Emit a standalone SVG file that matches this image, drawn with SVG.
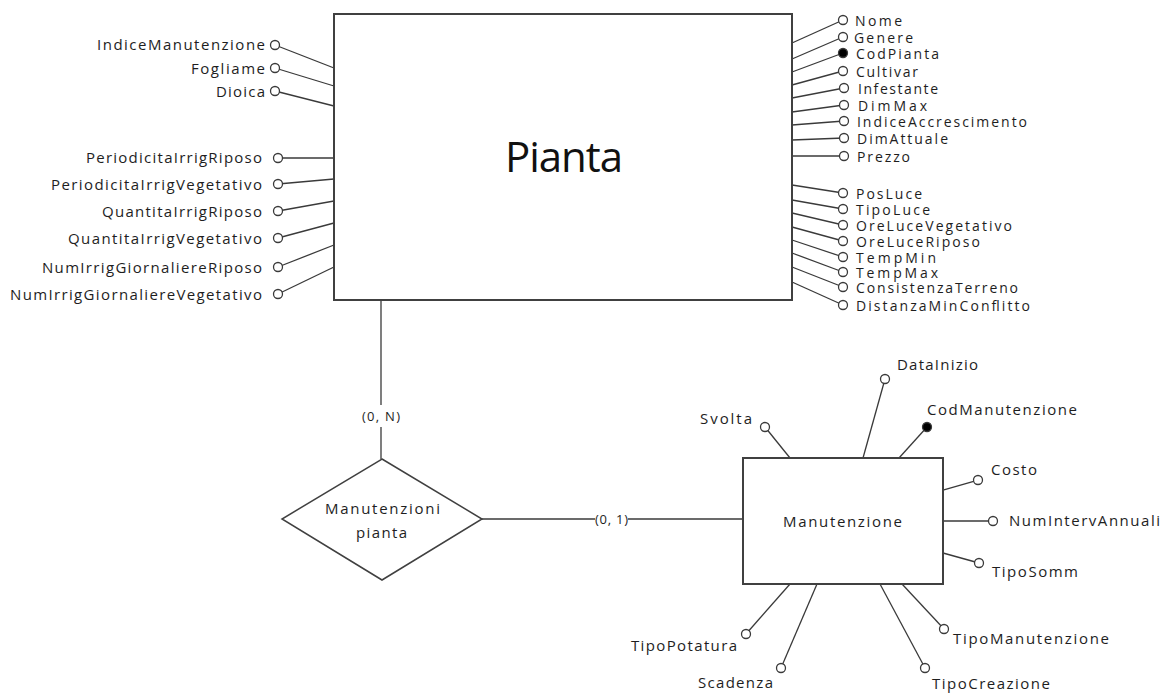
<svg xmlns="http://www.w3.org/2000/svg" width="1168" height="693" viewBox="0 0 1168 693">
  <style>
    .ent { fill: #ffffff; stroke: #404040; stroke-width: 2; }
    .rel { fill: #ffffff; stroke: #404040; stroke-width: 1.5; }
    .ln { fill: none; stroke: #3a3a3a; stroke-width: 1.3; }
    .at { fill: #ffffff; stroke: #3a3a3a; stroke-width: 1.3; }
    .key { fill: #000000; stroke: #3a3a3a; stroke-width: 1.3; }
    text { font-family: "Open Sans", "Liberation Sans", Arial, sans-serif; font-size: 15px; fill: #1e1e1e; }
    .tight text { font-size: 14px; }
    .title { font-size: 42px; fill: #111111; }
    .card { font-size: 13px; }
  </style>
  <rect width="1168" height="693" fill="#ffffff"/>

  <!-- connectors: attribute stems, relationship links -->
  <g id="connectors">
    <!-- Pianta, left side -->
    <line class="ln" x1="334" y1="68" x2="275" y2="45"/>
    <line class="ln" x1="334" y1="86" x2="275" y2="68"/>
    <line class="ln" x1="334" y1="106" x2="275" y2="91"/>
    <line class="ln" x1="334" y1="158" x2="278" y2="158"/>
    <line class="ln" x1="334" y1="179" x2="278" y2="184"/>
    <line class="ln" x1="334" y1="201" x2="278" y2="211"/>
    <line class="ln" x1="334" y1="223" x2="278" y2="238"/>
    <line class="ln" x1="334" y1="245" x2="278" y2="267"/>
    <line class="ln" x1="334" y1="267" x2="278" y2="294"/>
    <!-- Pianta, right side -->
    <line class="ln" x1="792" y1="43" x2="843" y2="20"/>
    <line class="ln" x1="792" y1="59" x2="843" y2="37"/>
    <line class="ln" x1="792" y1="72" x2="843" y2="53"/>
    <line class="ln" x1="792" y1="85" x2="843" y2="71"/>
    <line class="ln" x1="792" y1="98" x2="844" y2="88"/>
    <line class="ln" x1="792" y1="112" x2="844" y2="105"/>
    <line class="ln" x1="792" y1="125" x2="844" y2="121"/>
    <line class="ln" x1="792" y1="140" x2="844" y2="138"/>
    <line class="ln" x1="792" y1="156" x2="844" y2="156"/>
    <line class="ln" x1="792" y1="185" x2="843" y2="193"/>
    <line class="ln" x1="792" y1="200" x2="843" y2="209"/>
    <line class="ln" x1="792" y1="213" x2="843" y2="225"/>
    <line class="ln" x1="792" y1="227" x2="843" y2="241"/>
    <line class="ln" x1="792" y1="240" x2="843" y2="257"/>
    <line class="ln" x1="792" y1="253" x2="843" y2="272"/>
    <line class="ln" x1="792" y1="267" x2="843" y2="287"/>
    <line class="ln" x1="792" y1="282" x2="843" y2="305"/>
    <!-- Manutenzione stems -->
    <line class="ln" x1="790" y1="458" x2="765" y2="427"/>
    <line class="ln" x1="863" y1="458" x2="885" y2="379"/>
    <line class="ln" x1="899" y1="458" x2="927" y2="427"/>
    <line class="ln" x1="943" y1="490" x2="978" y2="480"/>
    <line class="ln" x1="943" y1="521" x2="993" y2="521"/>
    <line class="ln" x1="943" y1="553" x2="979" y2="563"/>
    <line class="ln" x1="902" y1="584" x2="944" y2="629"/>
    <line class="ln" x1="880" y1="584" x2="925" y2="668"/>
    <line class="ln" x1="817" y1="584" x2="781" y2="668"/>
    <line class="ln" x1="790" y1="584" x2="746" y2="634"/>
    <!-- relationship links with cardinalities -->
    <line class="ln" x1="381" y1="300" x2="381" y2="405"/>
    <line class="ln" x1="381" y1="427" x2="381" y2="459"/>
    <text class="card" x="362" y="421" textLength="38">(0, N)</text>
    <line class="ln" x1="482" y1="519" x2="595" y2="519"/>
    <line class="ln" x1="628" y1="519" x2="743" y2="519"/>
    <text class="card" x="595" y="524" textLength="33">(0, 1)</text>
  </g>

  <!-- entity Pianta -->
  <g id="pianta">
    <rect class="ent" x="334" y="14" width="458" height="286"/>
    <text class="title" x="505" y="172" textLength="118">Pianta</text>
  </g>

  <!-- Pianta attributes, left -->
  <g id="attr-indicemanutenzione"><circle class="at" cx="275" cy="45" r="4.5"/><text x="97" y="50" textLength="168">IndiceManutenzione</text></g>
  <g id="attr-fogliame"><circle class="at" cx="275" cy="68" r="4.5"/><text x="191" y="74" textLength="74">Fogliame</text></g>
  <g id="attr-dioica"><circle class="at" cx="275" cy="91" r="4.5"/><text x="216" y="97" textLength="49">Dioica</text></g>
  <g id="attr-periodicitairrigriposo"><circle class="at" cx="278" cy="158" r="4.5"/><text x="86" y="163" textLength="176">PeriodicitaIrrigRiposo</text></g>
  <g id="attr-periodicitairrigvegetativo"><circle class="at" cx="278" cy="184" r="4.5"/><text x="51" y="190" textLength="211">PeriodicitaIrrigVegetativo</text></g>
  <g id="attr-quantitairrigriposo"><circle class="at" cx="278" cy="211" r="4.5"/><text x="102" y="217" textLength="160">QuantitaIrrigRiposo</text></g>
  <g id="attr-quantitairrigvegetativo"><circle class="at" cx="278" cy="238" r="4.5"/><text x="68" y="244" textLength="194">QuantitaIrrigVegetativo</text></g>
  <g id="attr-numirriggiornaliereriposo"><circle class="at" cx="278" cy="267" r="4.5"/><text x="42" y="273" textLength="220">NumIrrigGiornaliereRiposo</text></g>
  <g id="attr-numirriggiornalierevegetativo"><circle class="at" cx="278" cy="294" r="4.5"/><text x="10" y="300" textLength="252">NumIrrigGiornaliereVegetativo</text></g>

  <!-- Pianta attributes, right (densely stacked) -->
  <g class="tight">
    <g id="attr-nome"><circle class="at" cx="843" cy="20" r="4.5"/><text x="855" y="25.5" textLength="47">Nome</text></g>
    <g id="attr-genere"><circle class="at" cx="843" cy="37" r="4.5"/><text x="854" y="42.5" textLength="59">Genere</text></g>
    <g id="attr-codpianta"><circle class="key" cx="843" cy="53" r="4.5"/><text x="856" y="58.5" textLength="83">CodPianta</text></g>
    <g id="attr-cultivar"><circle class="at" cx="843" cy="71" r="4.5"/><text x="856" y="76.5" textLength="62">Cultivar</text></g>
    <g id="attr-infestante"><circle class="at" cx="844" cy="88" r="4.5"/><text x="858" y="93.5" textLength="80">Infestante</text></g>
    <g id="attr-dimmax"><circle class="at" cx="844" cy="105" r="4.5"/><text x="858" y="110.5" textLength="69">DimMax</text></g>
    <g id="attr-indiceaccrescimento"><circle class="at" cx="844" cy="121" r="4.5"/><text x="857" y="126.5" textLength="170">IndiceAccrescimento</text></g>
    <g id="attr-dimattuale"><circle class="at" cx="844" cy="138" r="4.5"/><text x="857" y="143.5" textLength="91">DimAttuale</text></g>
    <g id="attr-prezzo"><circle class="at" cx="844" cy="156" r="4.5"/><text x="857" y="161.5" textLength="53">Prezzo</text></g>
    <g id="attr-posluce"><circle class="at" cx="843" cy="193" r="4.5"/><text x="856" y="198.5" textLength="66">PosLuce</text></g>
    <g id="attr-tipoluce"><circle class="at" cx="843" cy="209" r="4.5"/><text x="856" y="214.5" textLength="74">TipoLuce</text></g>
    <g id="attr-orelucevegetativo"><circle class="at" cx="843" cy="225" r="4.5"/><text x="856" y="230.5" textLength="156">OreLuceVegetativo</text></g>
    <g id="attr-oreluceriposo"><circle class="at" cx="843" cy="241" r="4.5"/><text x="856" y="246.5" textLength="124">OreLuceRiposo</text></g>
    <g id="attr-tempmin"><circle class="at" cx="843" cy="257" r="4.5"/><text x="856" y="262.5" textLength="80">TempMin</text></g>
    <g id="attr-tempmax"><circle class="at" cx="843" cy="272" r="4.5"/><text x="856" y="277.5" textLength="82">TempMax</text></g>
    <g id="attr-consistenzaterreno"><circle class="at" cx="843" cy="287" r="4.5"/><text x="856" y="292.5" textLength="162">ConsistenzaTerreno</text></g>
    <g id="attr-distanzaminconflitto"><circle class="at" cx="843" cy="305" r="4.5"/><text x="856" y="310.5" textLength="174">DistanzaMinConflitto</text></g>
  </g>

  <!-- relationship Manutenzioni pianta -->
  <g id="manutenzioni-pianta">
    <polygon class="rel" points="382,459 482,519 382,580 282,519"/>
    <text x="325" y="514" textLength="115">Manutenzioni</text>
    <text x="356" y="538" textLength="51">pianta</text>
  </g>

  <!-- entity Manutenzione -->
  <g id="manutenzione">
    <rect class="ent" x="743" y="458" width="200" height="126"/>
    <text x="783" y="527" textLength="119">Manutenzione</text>
  </g>

  <!-- Manutenzione attributes -->
  <g id="attr-svolta"><circle class="at" cx="765" cy="427" r="4.5"/><text x="700" y="424" textLength="52">Svolta</text></g>
  <g id="attr-datainizio"><circle class="at" cx="885" cy="379" r="4.5"/><text x="897" y="370" textLength="81">DataInizio</text></g>
  <g id="attr-codmanutenzione"><circle class="key" cx="927" cy="427" r="4.5"/><text x="927" y="415" textLength="150">CodManutenzione</text></g>
  <g id="attr-costo"><circle class="at" cx="978" cy="480" r="4.5"/><text x="991" y="475" textLength="46">Costo</text></g>
  <g id="attr-numintervannuali"><circle class="at" cx="993" cy="521" r="4.5"/><text x="1009" y="526" textLength="151">NumIntervAnnuali</text></g>
  <g id="attr-tiposomm"><circle class="at" cx="979" cy="563" r="4.5"/><text x="992" y="577" textLength="86">TipoSomm</text></g>
  <g id="attr-tipomanutenzione"><circle class="at" cx="944" cy="629" r="4.5"/><text x="953" y="644" textLength="156">TipoManutenzione</text></g>
  <g id="attr-tipocreazione"><circle class="at" cx="925" cy="668" r="4.5"/><text x="932" y="689" textLength="118">TipoCreazione</text></g>
  <g id="attr-scadenza"><circle class="at" cx="781" cy="668" r="4.5"/><text x="698" y="688" textLength="75">Scadenza</text></g>
  <g id="attr-tipopotatura"><circle class="at" cx="746" cy="634" r="4.5"/><text x="631" y="651" textLength="106">TipoPotatura</text></g>
</svg>
